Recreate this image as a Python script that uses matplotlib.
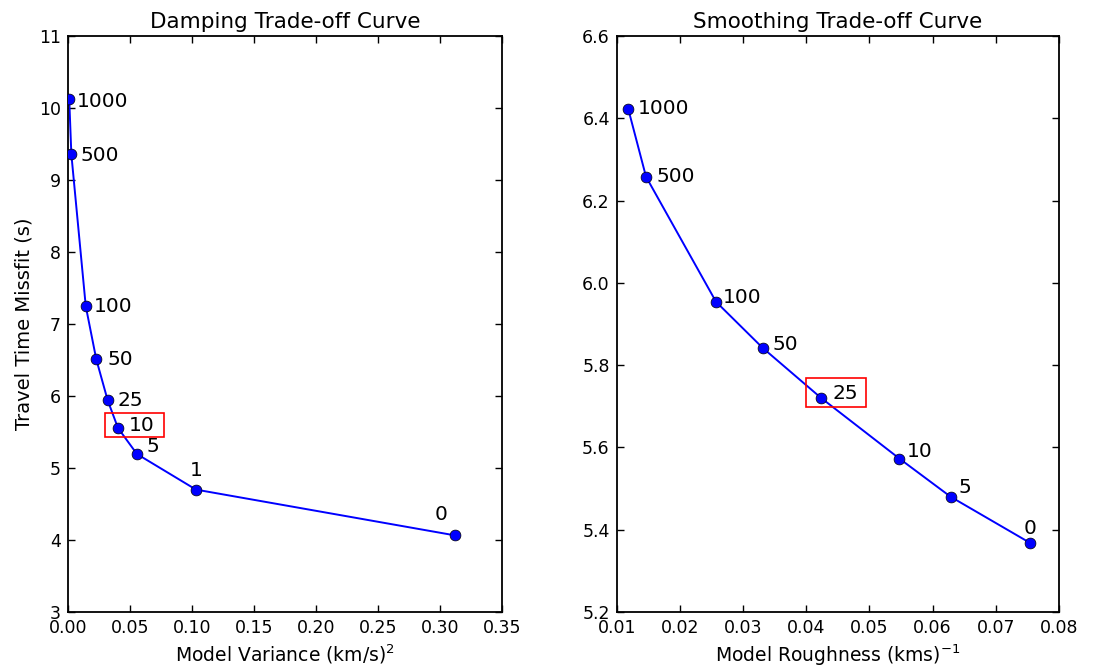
import matplotlib
matplotlib.use("Agg")
import matplotlib.pyplot as plt
from matplotlib.patches import Rectangle

# Damping trade-off: model variance vs travel-time misfit for each damping value
damping_params = ["1000", "500", "100", "50", "25", "10", "5", "1", "0"]
damping_variance = [0.0010, 0.0027, 0.0143, 0.0228, 0.0320, 0.0403, 0.0556, 0.1032, 0.3118]
damping_misfit = [10.12, 9.357, 7.25, 6.51, 5.94, 5.556, 5.194, 4.70, 4.065]

# Smoothing trade-off: model roughness vs travel-time misfit for each smoothing value
smoothing_params = ["1000", "500", "100", "50", "25", "10", "5", "0"]
smoothing_roughness = [0.01184, 0.01464, 0.02572, 0.0331, 0.04229, 0.05473, 0.06286, 0.07541]
smoothing_misfit = [6.422, 6.258, 5.954, 5.842, 5.721, 5.573, 5.480, 5.368]

# label offsets (pixels) and alignment for each annotated point
damping_offsets = [(8, -2), (9, -1), (8, -1), (11, 0), (10, 0), (11, 2), (10, 8), (0, 19), (-14, 21)]
damping_ha = ["left"] * 7 + ["center", "center"]
smoothing_offsets = [(9, 1), (10, 0), (7, 4), (10, 3), (12, 4), (7, 7), (8, 9), (0, 14)]
smoothing_ha = ["left"] * 7 + ["center"]

plt.rcParams["font.family"] = ["DejaVu Sans"]
plt.rcParams["mathtext.fontset"] = "dejavusans"

fig = plt.figure(figsize=(11.10, 6.71), dpi=100)
ax1 = fig.add_axes([68 / 1110, 59 / 671, 434 / 1110, 576 / 671])
ax2 = fig.add_axes([616.7 / 1110, 59 / 671, 442.3 / 1110, 576 / 671])


def style_axes(ax):
    ax.tick_params(direction="in", top=True, right=True, length=5, width=1,
                   labelsize=12.5, pad=5)
    for sp in ax.spines.values():
        sp.set_linewidth(1.3)


def draw_curve(ax, xs, ys, labels, offsets, has):
    ax.plot(xs, ys, "-", color="blue", lw=1.4, zorder=2)
    ax.plot(xs, ys, "o", color="blue", markersize=7.8, markeredgecolor="black",
            markeredgewidth=0.5, zorder=3)
    for x, y, lab, off, ha in zip(xs, ys, labels, offsets, has):
        ax.annotate(lab, (x, y), xytext=off, textcoords="offset pixels",
                    ha=ha, va="center", fontsize=14.5)


# left panel
draw_curve(ax1, damping_variance, damping_misfit, damping_params, damping_offsets, damping_ha)
ax1.set_xlim(0, 0.35)
ax1.set_ylim(3, 11)
ax1.set_xticks([0.00, 0.05, 0.10, 0.15, 0.20, 0.25, 0.30, 0.35])
ax1.set_xticklabels(["0.00", "0.05", "0.10", "0.15", "0.20", "0.25", "0.30", "0.35"])
ax1.set_yticks(range(3, 12))
ax1.add_patch(Rectangle((0.0298, 5.43), 0.048, 0.34, fill=False, edgecolor="red",
                        lw=1.2, zorder=4))
ax1.set_title("Damping Trade-off Curve", fontsize=15.5)
ax1.set_xlabel("Model Variance (km/s)$^2$", fontsize=13.5)
ax1.set_ylabel("Travel Time Missfit (s)", fontsize=14)
style_axes(ax1)

# right panel
draw_curve(ax2, smoothing_roughness, smoothing_misfit, smoothing_params, smoothing_offsets, smoothing_ha)
ax2.set_xlim(0.01, 0.08)
ax2.set_ylim(5.2, 6.6)
ax2.set_xticks([0.01, 0.02, 0.03, 0.04, 0.05, 0.06, 0.07, 0.08])
ax2.set_xticklabels(["0.01", "0.02", "0.03", "0.04", "0.05", "0.06", "0.07", "0.08"])
ax2.set_yticks([5.2, 5.4, 5.6, 5.8, 6.0, 6.2, 6.4, 6.6])
ax2.set_yticklabels(["5.2", "5.4", "5.6", "5.8", "6.0", "6.2", "6.4", "6.6"])
ax2.add_patch(Rectangle((0.0399, 5.699), 0.0096, 0.070, fill=False, edgecolor="red",
                        lw=1.2, zorder=4))
ax2.set_title("Smoothing Trade-off Curve", fontsize=15.5)
ax2.set_xlabel("Model Roughness (kms)$^{-1}$", fontsize=13.5)
style_axes(ax2)

fig.savefig("out.png", dpi=100)
